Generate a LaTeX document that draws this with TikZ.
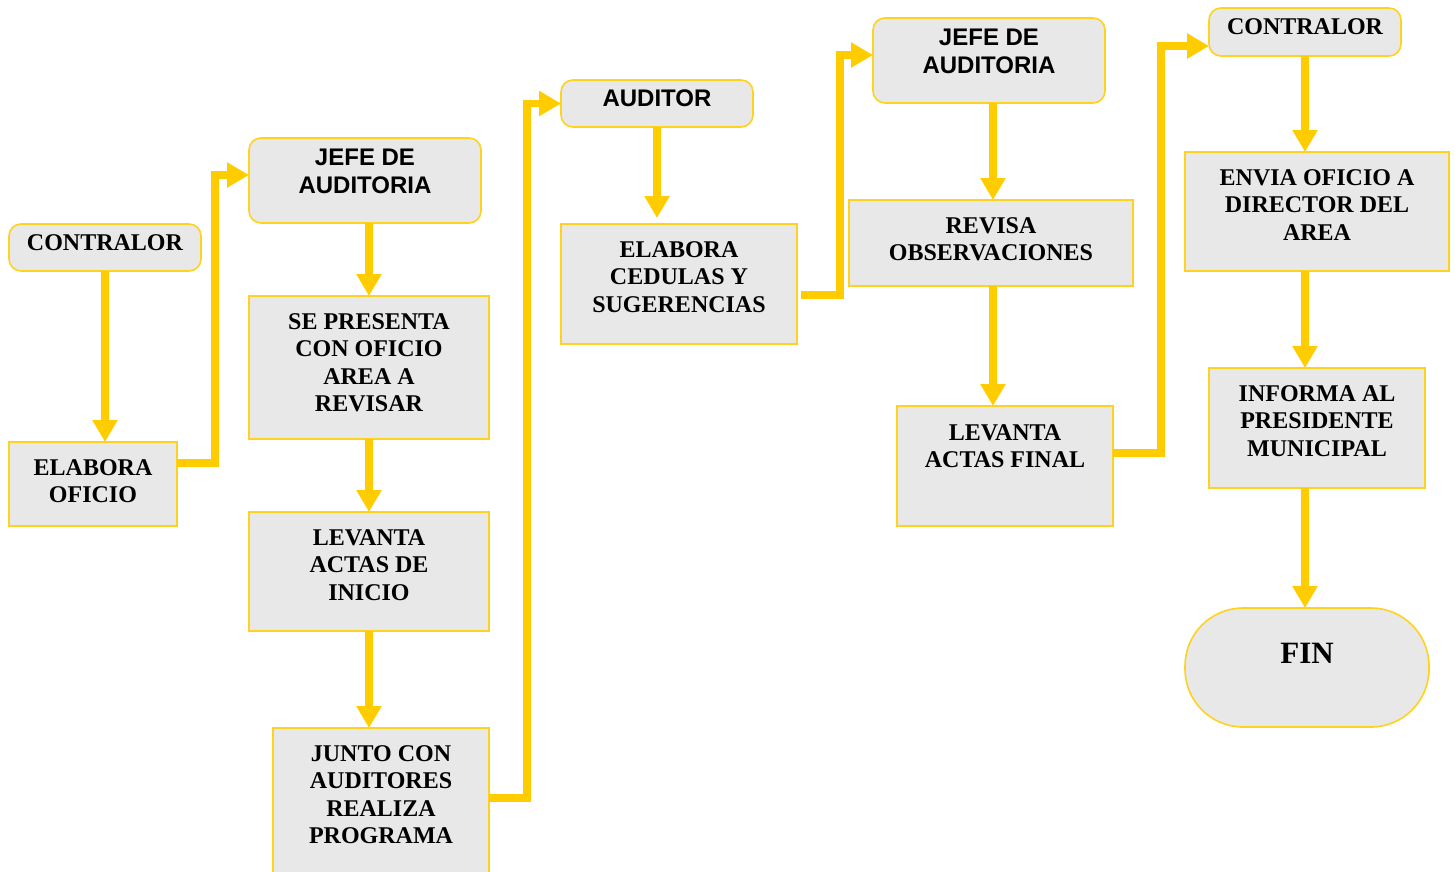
\documentclass[tikz,border=0pt]{standalone}
\usepackage{fontspec}
\setmainfont{Liberation Serif}
\newfontfamily\headfont{Liberation Sans}
\usetikzlibrary{arrows.meta,calc}
\definecolor{flowyellow}{HTML}{FFCC00}
\definecolor{edgeyellow}{HTML}{FFD21F}
\definecolor{boxgray}{HTML}{E8E8E8}

\begin{document}
\begin{tikzpicture}[x=1pt,y=-1pt,
  stepbox/.style={draw=edgeyellow, fill=boxgray, line width=1.6pt, inner sep=0pt,
    outer sep=0pt, anchor=north west},
  rolebox/.style={stepbox, rounded corners=12pt},
  steptext/.style={anchor=north, inner sep=0pt, align=center,
    font=\bfseries\fontsize{24}{27.6}\selectfont},
  roletext/.style={anchor=north, inner sep=0pt, align=center,
    font=\headfont\bfseries\fontsize{24}{28}\selectfont},
  flow/.style={draw=flowyellow, line width=7.5pt, line join=miter,
    -{Triangle[width=24pt,length=22pt]}},
]
\path[use as bounding box] (0,0) rectangle (1455,871);

% boxes
\node[rolebox, minimum width=192pt, minimum height=47pt]  (c1) at (9,224) {};
\node[stepbox, minimum width=168pt, minimum height=84pt]  (eo) at (9,442) {};
\node[rolebox, minimum width=232pt, minimum height=85pt]  (j1) at (249,138) {};
\node[stepbox, minimum width=240pt, minimum height=143pt] (sp) at (249,296) {};
\node[stepbox, minimum width=240pt, minimum height=119pt] (li) at (249,512) {};
\node[stepbox, minimum width=216pt, minimum height=152pt] (jc) at (273,728) {};
\node[rolebox, minimum width=192pt, minimum height=47pt]  (au) at (561,80) {};
\node[stepbox, minimum width=236pt, minimum height=120pt] (ce) at (561,224) {};
\node[rolebox, minimum width=232pt, minimum height=85pt]  (j2) at (873,18) {};
\node[stepbox, minimum width=284pt, minimum height=86pt]  (rv) at (849,200) {};
\node[stepbox, minimum width=216pt, minimum height=120pt] (lf) at (897,406) {};
\node[rolebox, minimum width=192pt, minimum height=48pt]  (c2) at (1209,8) {};
\node[stepbox, minimum width=264pt, minimum height=119pt] (en) at (1185,152) {};
\node[stepbox, minimum width=216pt, minimum height=120pt] (inf) at (1209,368) {};
\node[stepbox, rounded corners=58pt, minimum width=244pt, minimum height=119pt] (fin) at (1185,608) {};

% labels
\node[steptext] (c1t) at (105,234) {CONTRALOR};
\node[steptext] (eot) at (93,459) {ELABORA\\OFICIO};
\node[roletext] (j1t) at (365,148.4) {JEFE DE\\AUDITORIA};
\node[steptext] (spt) at (369,313) {SE PRESENTA\\CON OFICIO\\AREA A\\REVISAR};
\node[steptext] (lit) at (369,529) {LEVANTA\\ACTAS DE\\INICIO};
\node[steptext] (jct) at (381,745) {JUNTO CON\\AUDITORES\\REALIZA\\PROGRAMA};
\node[roletext] (aut) at (657,89.4) {AUDITOR};
\node[steptext] (cet) at (679,241) {ELABORA\\CEDULAS Y\\SUGERENCIAS};
\node[roletext] (j2t) at (989,28.4) {JEFE DE\\AUDITORIA};
\node[steptext] (rvt) at (991,217) {REVISA\\OBSERVACIONES};
\node[steptext] (lft) at (1005,424) {LEVANTA\\ACTAS FINAL};
\node[steptext] (c2t) at (1305,18) {CONTRALOR};
\node[steptext] (ent) at (1317,169) {ENVIA OFICIO A\\DIRECTOR DEL\\AREA};
\node[steptext] (inft) at (1317,385) {INFORMA AL\\PRESIDENTE\\MUNICIPAL};
\node[steptext, font=\bfseries\fontsize{31}{36}\selectfont] (fint) at (1307,642.7) {FIN};

% connectors
\draw[flow] (c1.south) -- (c1.south |- eo.north);
\draw[flow] ([yshift=21pt]eo.east) -- ++(38,0) |- ([yshift=5.5pt]j1.west);
\draw[flow] (sp.north |- j1.south) -- (sp.north);
\draw[flow] (sp.south) -- (li.north);
\draw[flow] (li.south) -- (li.south |- jc.north);
\draw[flow] ([yshift=-70pt]jc.north east) -- ++(38,0) |- (au.west);
\draw[flow, shorten >=6pt] (au.south) -- (au.south |- ce.north);
\draw[flow] ([xshift=4pt,yshift=-11pt]ce.east) -- ++(39,0) |- ([yshift=5.5pt]j2.west);
\draw[flow] ([xshift=4pt]j2.south) -- ([xshift=4pt]j2.south |- rv.north);
\draw[flow] ([xshift=2pt]rv.south) -- ([xshift=2pt]rv.south |- lf.north);
\draw[flow] ([yshift=13pt]lf.east) -- ++(48,0) |- ([yshift=-14pt]c2.west);
\draw[flow] (c2.south) -- (c2.south |- en.north);
\draw[flow] ([xshift=-12pt]en.south) -- ([xshift=-12pt]en.south |- inf.north);
\draw[flow] ([xshift=-12pt]inf.south) -- ([xshift=-12pt]inf.south |- fin.north);
\end{tikzpicture}
\end{document}
